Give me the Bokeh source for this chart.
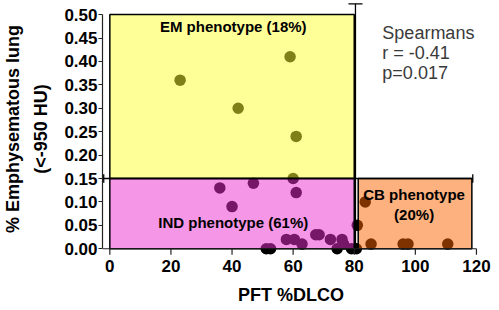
from bokeh.plotting import figure
from bokeh.models import Range1d, FixedTicker, NumeralTickFormatter, Label
from bokeh.embed import file_html
from bokeh.resources import INLINE

# ---- data ----
em_x = [59, 23, 42, 61, 60]
em_y = [0.41, 0.36, 0.30, 0.24, 0.15]

ind_x = [36, 47, 61, 40, 57.8, 60.4, 62.9, 67.4, 68.5, 72.2, 76, 76.5, 51.2, 52.6, 74.4, 79.1, 80.7]
ind_y = [0.13, 0.14, 0.12, 0.09, 0.02, 0.02, 0.01, 0.03, 0.03, 0.02, 0.02, 0.01, 0, 0, 0, 0, 0]

cb_x = [81, 83.6, 85.5, 96, 97.6, 110.6]
cb_y = [0.05, 0.10, 0.01, 0.01, 0.01, 0.01]

x_ticks = [0, 20, 40, 60, 80, 100, 120]
y_ticks = [0.00, 0.05, 0.10, 0.15, 0.20, 0.25, 0.30, 0.35, 0.40, 0.45, 0.50]

DLCO_CUT = 80
EMPH_CUT = 0.15
Y_MAX = 0.50
X_MAX_CB = 118.5

regions = ["EM phenotype (18%)", "IND phenotype (61%)", "CB phenotype", "(20%)"]
stats = ["Spearmans", "r = -0.41", "p=0.017"]
x_title = "PFT %DLCO"
y_title = "% Emphysematous lung\n(<-950 HU)"

FONT = "Liberation Sans"
AX = "#222222"

p = figure(width=499, height=310, output_backend="svg", toolbar_location=None,
           x_range=Range1d(-2.4, 121), y_range=Range1d(-0.0165, 0.528),
           min_border_left=98, min_border_right=20, min_border_top=1, min_border_bottom=54)
p.outline_line_color = None
p.xgrid.visible = False
p.ygrid.visible = False
p.background_fill_color = "white"
p.border_fill_color = "white"

# points (black), overlaid by translucent regions
all_x = em_x + ind_x + cb_x
all_y = em_y + ind_y + cb_y
p.scatter(all_x, all_y, size=11.5, fill_color="black", line_color=None)

p.quad(left=[0], right=[DLCO_CUT], bottom=[EMPH_CUT], top=[Y_MAX],
       fill_color=(255, 255, 50), fill_alpha=0.5, line_color="black", line_width=1.5)
p.quad(left=[0], right=[DLCO_CUT], bottom=[0], top=[EMPH_CUT],
       fill_color=(235, 45, 205), fill_alpha=0.5, line_color="black", line_width=1.5)
p.quad(left=[DLCO_CUT + 1.3], right=[X_MAX_CB], bottom=[0], top=[EMPH_CUT],
       fill_color=(250, 100, 0), fill_alpha=0.5, line_color="black", line_width=1.5)

# cut-off lines with caps
p.segment(x0=[DLCO_CUT + 0.4], y0=[0], x1=[DLCO_CUT + 0.4], y1=[0.523], line_color="black", line_width=1.3)
p.segment(x0=[DLCO_CUT + 0.4 - 2.3], y0=[0.523], x1=[DLCO_CUT + 0.4 + 2.3], y1=[0.523], line_color="black", line_width=1.3)
p.segment(x0=[-2.4], y0=[EMPH_CUT], x1=[X_MAX_CB + 0.3], y1=[EMPH_CUT], line_color="black", line_width=1.3)
p.segment(x0=[-2.0, X_MAX_CB + 0.3], y0=[EMPH_CUT - 0.009, EMPH_CUT - 0.009],
          x1=[-2.0, X_MAX_CB + 0.3], y1=[EMPH_CUT + 0.009, EMPH_CUT + 0.009], line_color="black", line_width=1.3)

# x axis line and ticks at y = 0 (inside the frame)
p.segment(x0=[-2.4], y0=[0], x1=[x_ticks[-1]], y1=[0], line_color=AX, line_width=1.2)
p.segment(x0=x_ticks, y0=[0] * len(x_ticks), x1=x_ticks, y1=[-0.0128] * len(x_ticks),
          line_color=AX, line_width=1.2)

# region labels
lab_kw = dict(text_font=FONT, text_font_style="bold", text_font_size="15px", text_color="black",
              text_align="center", text_baseline="middle")
p.add_layout(Label(x=40.4, y=0.475, text=regions[0], **lab_kw))
p.add_layout(Label(x=40.4, y=0.057, text=regions[1], **lab_kw))
p.add_layout(Label(x=99.6, y=0.116, text=regions[2], **lab_kw))
p.add_layout(Label(x=99.6, y=0.074, text=regions[3], **lab_kw))

# stats text
for t, yy in zip(stats, [0.461, 0.418, 0.376]):
    p.add_layout(Label(x=89.2, y=yy, text=t, text_font=FONT, text_font_size="18px",
                       text_color="#3a3a3a", text_align="left", text_baseline="middle"))

# x axis at frame bottom: labels and title only
xa = p.xaxis[0]
xa.ticker = FixedTicker(ticks=x_ticks)
xa.axis_line_color = None
xa.major_tick_line_color = None
xa.minor_tick_line_color = None
xa.major_tick_in = 0
xa.major_tick_out = 0
xa.major_label_standoff = 3
xa.major_label_text_font = FONT
xa.major_label_text_font_style = "bold"
xa.major_label_text_font_size = "17px"
xa.major_label_text_color = "black"
xa.axis_label = x_title
xa.axis_label_standoff = 10
xa.axis_label_text_font = FONT
xa.axis_label_text_font_style = "bold"
xa.axis_label_text_font_size = "18px"
xa.axis_label_text_color = "black"

ya = p.yaxis[0]
ya.ticker = FixedTicker(ticks=y_ticks)
ya.formatter = NumeralTickFormatter(format="0.00")
ya.bounds = (0, 0.5)
ya.axis_label = y_title
ya.axis_line_color = AX
ya.axis_line_width = 1.2
ya.major_tick_line_color = AX
ya.major_tick_line_width = 1.2
ya.minor_tick_line_color = None
ya.major_tick_in = 0
ya.major_tick_out = 4
ya.major_label_text_font = FONT
ya.major_label_text_font_style = "bold"
ya.major_label_text_font_size = "17px"
ya.major_label_text_color = "black"
ya.major_label_standoff = 1
ya.axis_label_text_font = FONT
ya.axis_label_text_font_style = "bold"
ya.axis_label_text_font_size = "18px"
ya.axis_label_text_color = "black"
ya.axis_label_standoff = 10
ya.axis_label_text_line_height = 1.4

open("out.html", "w").write(file_html(p, INLINE))
